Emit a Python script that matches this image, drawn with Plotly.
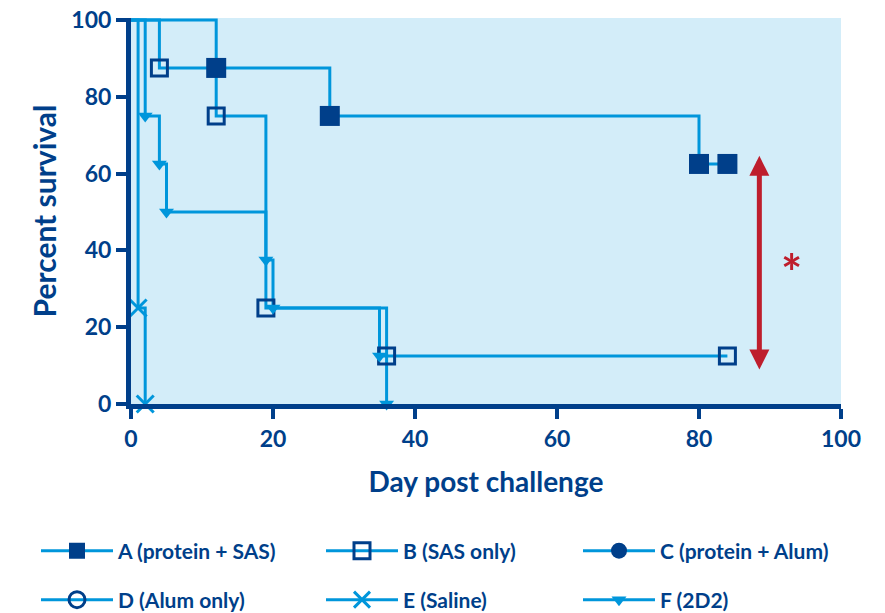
import plotly.graph_objects as go

# Colours
DARK = "#003f8a"
LINE = "#0096db"
BG = "#d3edf9"
RED = "#be1e2d"
FONT = "Lato"

# Kaplan-Meier steps: day of each event and percent surviving after it
a_days = [12, 28, 80, 84]
a_surv = [87.5, 75, 62.5, 62.5]
b_days = [4, 12, 19, 36, 84]
b_surv = [87.5, 75, 25, 12.5, 12.5]
c_days = []
c_surv = []
d_days = []
d_surv = []
e_days = [1, 2]
e_surv = [25, 0]
f_days = [2, 4, 5, 19, 20, 35, 36]
f_surv = [75, 62.5, 50, 37.5, 25, 12.5, 0]

group_names = ["A (protein + SAS)", "B (SAS only)", "C (protein + Alum)",
               "D (Alum only)", "E (Saline)", "F (2D2)"]
group_days = [a_days, b_days, c_days, d_days, e_days, f_days]
group_surv = [a_surv, b_surv, c_surv, d_surv, e_surv, f_surv]

x_ticks = [0, 20, 40, 60, 80, 100]
y_ticks = [0, 20, 40, 60, 80, 100]

# Significance bracket between A and B at the end of follow-up
ARROW_X = 88.5
ARROW_TOP = 65
ARROW_BOTTOM = 9
STAR_X = 93
STAR_Y = 34.3

marker_styles = [
    dict(symbol="square", size=20, color=DARK, line=dict(width=0, color=DARK)),
    dict(symbol="square-open", size=16, color=DARK, line=dict(width=3, color=DARK)),
    dict(symbol="circle", size=20, color=DARK, line=dict(width=0, color=DARK)),
    dict(symbol="circle-open", size=16, color=DARK, line=dict(width=3, color=DARK)),
    dict(symbol="x-thin-open", size=17, color=LINE, line=dict(width=3, color=LINE)),
    dict(symbol="triangle-down", size=13, color=LINE, line=dict(width=0, color=LINE)),
]

fig = go.Figure()

# Step lines (all start at 100% on day 0)
for days, surv in zip(group_days, group_surv):
    if not days:
        continue
    fig.add_trace(go.Scatter(
        x=[0] + days, y=[100] + surv, mode="lines",
        line=dict(color=LINE, width=3, shape="hv"),
        showlegend=False, hoverinfo="skip",
    ))

# Event markers on top of all lines
for name, days, surv, mk in zip(group_names, group_days, group_surv, marker_styles):
    if not days:
        continue
    fig.add_trace(go.Scatter(
        x=days, y=surv, mode="markers", marker=mk, name=name,
        showlegend=False, cliponaxis=False,
    ))

# Legend: a 3 x 2 grid, one small legend box per group
legend_ids = ["legend", "legend2", "legend3", "legend4", "legend5", "legend6"]
legend_cols = [36, 321, 578]          # left edge of each column, px
legend_rows = [551, 600]              # vertical centre of each row, px
for i, (name, mk, leg) in enumerate(zip(group_names, marker_styles, legend_ids)):
    fig.add_trace(go.Scatter(
        x=[None], y=[None], mode="lines+markers", name=name,
        line=dict(color=LINE, width=3), marker=mk, legend=leg,
    ))

legend_layout = {}
for i, leg in enumerate(legend_ids):
    legend_layout[leg] = dict(
        orientation="h", xref="container", yref="container",
        x=legend_cols[i % 3] / 885, y=1 - legend_rows[i // 3] / 613,
        xanchor="left", yanchor="middle",
        font=dict(family=FONT, size=21, color=DARK, weight="bold"),
        itemwidth=72, bgcolor="rgba(0,0,0,0)",
    )

fig.add_annotation(
    x=ARROW_X, y=ARROW_BOTTOM, ax=ARROW_X, ay=ARROW_TOP,
    xref="x", yref="y", axref="x", ayref="y",
    text="", showarrow=True, arrowside="end+start",
    arrowhead=2, startarrowhead=2, arrowsize=0.8, startarrowsize=0.8,
    arrowwidth=5, arrowcolor=RED, standoff=0, startstandoff=0,
)
fig.add_annotation(
    x=STAR_X, y=STAR_Y, xref="x", yref="y", text="*", showarrow=False,
    font=dict(family=FONT, size=50, color=RED, weight="bold"),
)

axis_common = dict(
    showline=True, linewidth=5, linecolor=DARK,
    ticks="outside", ticklen=10, tickwidth=4, tickcolor=DARK,
    showgrid=False, zeroline=False,
    tickfont=dict(family=FONT, size=23, color=DARK, weight="bold"),
)

fig.update_layout(
    width=885, height=613,
    margin=dict(l=131, r=44, t=18, b=209, autoexpand=False),
    paper_bgcolor="white", plot_bgcolor=BG,
    xaxis=dict(range=[0, 100], tickvals=x_ticks,
               title=dict(text="Day post challenge", standoff=23,
                          font=dict(family=FONT, size=28, color=DARK, weight="bold")),
               **axis_common),
    yaxis=dict(range=[0, 100.5], tickvals=y_ticks,
               title=dict(text="Percent survival", standoff=7,
                          font=dict(family=FONT, size=30, color=DARK, weight="bold")),
               **axis_common),
    showlegend=True,
    **legend_layout,
)

fig.write_html("out.html")
